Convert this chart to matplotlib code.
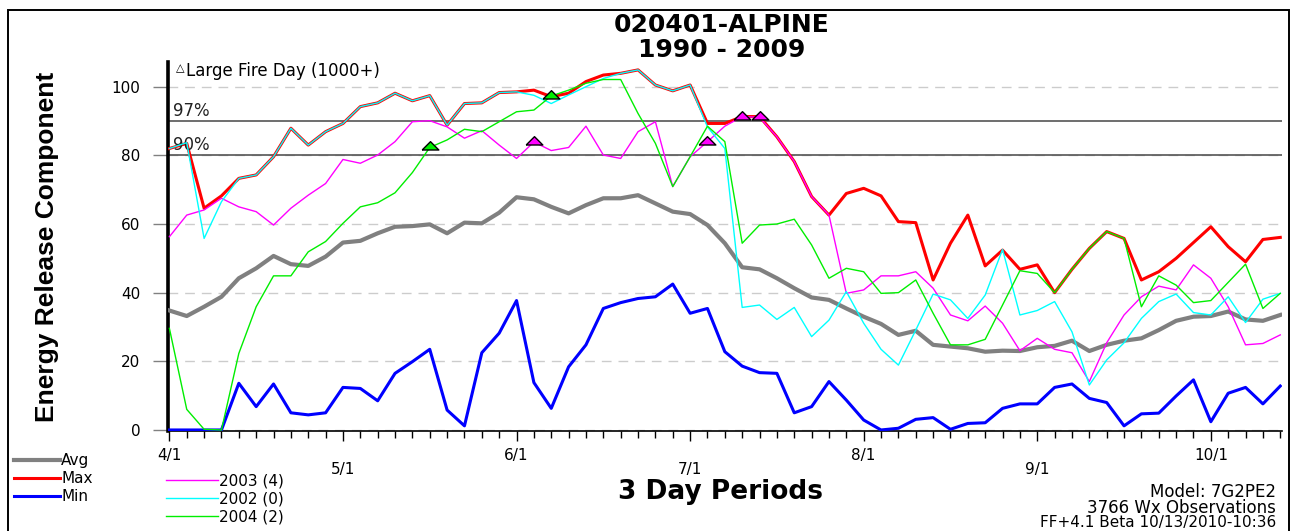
import matplotlib.pyplot as plt
from matplotlib.patches import Rectangle
import numpy as np

# ERC per 3-day period, starting 4/1
avg = [34.8, 33.2, 35.9, 38.8, 44.2, 47.1, 50.7, 48.3, 47.8, 50.5, 54.6, 55.1, 57.3, 59.2, 59.4, 59.9,
       57.3, 60.4, 60.2, 63.3, 67.8, 67.2, 65.0, 63.1, 65.5, 67.5, 67.5, 68.4, 66.0, 63.6, 62.9, 59.7,
       54.4, 47.4, 46.8, 44.2, 41.3, 38.6, 37.9, 35.4, 33.0, 30.9, 27.7, 28.9, 24.8, 24.3, 23.8, 22.8,
       23.1, 23.0, 24.1, 24.5, 26.0, 23.0, 24.8, 26.0, 26.7, 29.1, 31.8, 33.0, 33.2, 34.5, 32.2, 31.8, 33.5]
max_erc = [82.0, 83.5, 64.6, 68.2, 73.3, 74.3, 79.6, 87.9, 83.0, 86.9, 89.3, 94.2, 95.3, 98.1, 95.9, 97.4,
           88.8, 95.1, 95.3, 98.3, 98.5, 99.0, 97.1, 98.1, 101.5, 103.4, 103.9, 104.9, 100.5, 98.8, 100.5, 89.3,
           89.3, 91.3, 91.3, 85.4, 78.2, 68.0, 62.6, 68.9, 70.4, 68.2, 60.7, 60.4, 43.7, 54.4, 62.6, 47.8,
           52.4, 46.8, 48.1, 40.0, 46.8, 52.9, 57.8, 55.8, 43.7, 46.1, 50.0, 54.6, 59.2, 53.4, 49.0, 55.5, 56.1]
min_erc = [0, 0, 0, 0, 13.6, 6.8, 13.4, 5.0, 4.4, 5.0, 12.4, 12.1, 8.5, 16.5, 19.9, 23.5,
           5.8, 1.2, 22.5, 28.2, 37.7, 13.8, 6.3, 18.4, 24.8, 35.4, 37.1, 38.3, 38.8, 42.5, 34.0, 35.4,
           22.8, 18.6, 16.7, 16.5, 5.0, 6.8, 14.1, 8.7, 2.9, 0.0, 0.5, 3.1, 3.6, 0.2, 1.9, 2.1,
           6.3, 7.6, 7.6, 12.4, 13.4, 9.2, 8.0, 1.2, 4.7, 4.9, 9.9, 14.6, 2.4, 10.7, 12.4, 7.6, 12.8]
y2003 = [56.3, 62.6, 64.1, 67.5, 65.0, 63.6, 59.7, 64.6, 68.4, 71.8, 78.8, 77.7, 80.1, 84.0, 89.8, 90.1,
         88.3, 85.0, 87.2, 83.0, 79.1, 83.9, 81.4, 82.3, 88.5, 80.1, 79.1, 86.9, 89.8, 70.9, 79.6, 84.0,
         88.5, 91.3, 91.1, 85.4, 78.2, 68.0, 62.6, 39.8, 40.8, 44.9, 44.9, 46.1, 41.3, 33.5, 31.8, 36.1,
         31.1, 23.1, 26.7, 23.5, 22.5, 14.1, 25.4, 33.5, 38.8, 41.9, 40.8, 48.1, 44.2, 35.9, 24.8, 25.2, 27.7]
y2002 = [82.0, 83.7, 55.8, 66.5, 73.3, 74.3, 79.6, 87.9, 83.0, 86.9, 89.3, 94.2, 95.3, 98.1, 95.9, 97.4,
         88.8, 95.1, 95.3, 98.3, 98.5, 97.5, 95.1, 97.6, 100.0, 102.4, 103.9, 104.9, 100.5, 98.8, 100.5, 88.3,
         82.0, 35.7, 36.4, 32.2, 35.7, 27.2, 32.0, 40.3, 31.1, 23.5, 18.9, 29.1, 39.6, 37.9, 32.5, 39.3,
         52.6, 33.5, 34.8, 37.4, 28.6, 13.1, 20.4, 25.4, 32.5, 37.4, 39.6, 34.2, 33.5, 38.8, 31.3, 38.1, 39.8]
y2004 = [29.6, 6.0, 0.2, 0.0, 22.3, 35.9, 44.9, 44.9, 51.9, 54.9, 60.2, 65.0, 66.2, 69.1, 75.0, 82.3,
         84.5, 87.6, 86.9, 89.8, 92.7, 93.2, 97.3, 99.0, 101.0, 102.1, 102.1, 92.2, 83.5, 70.9, 79.6, 88.5,
         84.0, 54.4, 59.7, 60.0, 61.4, 53.9, 44.2, 47.1, 46.1, 39.8, 40.0, 43.7, 34.0, 24.8, 24.8, 26.4,
         36.4, 46.4, 45.6, 40.0, 46.8, 52.9, 57.8, 55.8, 35.9, 44.9, 42.2, 37.1, 37.7, 43.0, 48.3, 35.4, 39.8]

# large fire days (period index)
fires_2003 = [21, 31, 33, 34]
fires_2004 = [15, 22]

month_pos = [0, 10, 20, 30, 40, 50, 60]
month_labels = ['4/1', '\n5/1', '6/1', '\n7/1', '8/1', '\n9/1', '10/1']

plt.rcParams['font.family'] = 'DejaVu Sans'

W, H = 1296, 531
def fx(px):
    return px / W
def fy(py):
    return 1 - py / H

fig = plt.figure(figsize=(W / 100, H / 100), dpi=100)
ax = fig.add_axes([fx(168), fy(431), fx(1282) - fx(168), fy(62) - fy(431)])

x = np.arange(len(avg))
l_avg, = ax.plot(x, avg, color='#808080', lw=3.0, label='Avg', zorder=3)
l_min, = ax.plot(x, min_erc, color='#0000ff', lw=2.2, label='Min', zorder=3)
l_max, = ax.plot(x, max_erc, color='#ff0000', lw=2.2, label='Max', zorder=3)
l03, = ax.plot(x, y2003, color='#ff00ff', lw=1.0, label='2003 (4)', zorder=4)
l02, = ax.plot(x, y2002, color='#00ffff', lw=1.0, label='2002 (0)', zorder=4)
l04, = ax.plot(x, y2004, color='#00ee00', lw=1.0, label='2004 (2)', zorder=4)

tri = [(-1, -0.3), (1, -0.3), (0, 0.7), (-1, -0.3)]
ax.plot(fires_2003, [y2003[i] for i in fires_2003], ls='none', marker=tri, ms=12,
        mfc='#ff00ff', mec='black', mew=1, zorder=5)
ax.plot(fires_2004, [y2004[i] for i in fires_2004], ls='none', marker=tri, ms=12,
        mfc='#00ee00', mec='black', mew=1, zorder=5)

# percentile lines
ax.axhline(90, color='#555555', lw=1.2, zorder=2)
ax.axhline(80, color='#555555', lw=1.2, zorder=2)
ax.text(0.2, 90.4, '97%', fontsize=12, va='bottom', ha='left', color='#222222')
ax.text(0.2, 80.4, '90%', fontsize=12, va='bottom', ha='left', color='#222222')

ax.set_xlim(-0.08, 64.1)
ax.set_ylim(-0.3, 107.2)
ax.set_yticks([0, 20, 40, 60, 80, 100])
ax.yaxis.grid(True, color='#cccccc', linestyle=(0, (7, 5)), lw=1)
ax.set_axisbelow(True)

ax.set_xticks(month_pos)
ax.set_xticklabels(month_labels, fontsize=11, linespacing=0.95)
ax.set_xticks(x, minor=True)
ax.tick_params(axis='x', which='major', length=7, width=1, pad=5, direction='out')
ax.tick_params(axis='x', which='minor', length=5, width=1, direction='out')
ax.tick_params(axis='y', length=11, width=1, color='#808080', pad=9, labelsize=11)

for s in ['top', 'right']:
    ax.spines[s].set_visible(False)
ax.spines['left'].set_linewidth(2.6)
ax.spines['bottom'].set_linewidth(1.2)

# texts
fig.text(fx(722), fy(25), '020401-ALPINE', fontsize=18, fontweight='bold', ha='center', va='center')
fig.text(fx(722), fy(50), '1990 - 2009', fontsize=18, fontweight='bold', ha='center', va='center')
fig.text(fx(47), fy(247), 'Energy Release Component', family='Liberation Sans', fontsize=19,
         fontweight='bold', rotation=90, ha='center', va='center')
fig.text(fx(720), fy(492), '3 Day Periods', fontsize=19, fontweight='bold', ha='center', va='center')
fig.text(fx(176), fy(68), '\u25b3', fontsize=8, ha='left', va='center')
fig.text(fx(186), fy(71), 'Large Fire Day (1000+)', fontsize=12, ha='left', va='center')
fig.text(fx(1276), fy(492), 'Model: 7G2PE2', fontsize=12, ha='right', va='center')
fig.text(fx(1276), fy(508), '3766 Wx Observations', fontsize=12, ha='right', va='center')
fig.text(fx(1276), fy(523), 'FF+4.1 Beta 10/13/2010-10:36', fontsize=11, ha='right', va='center')

leg1 = fig.legend(handles=[l_avg, l_max, l_min], loc='upper left', bbox_to_anchor=(fx(14), fy(453)),
                  frameon=False, fontsize=11, handlelength=3.0, handletextpad=0.1,
                  labelspacing=0.2, borderpad=0, borderaxespad=0)
leg2 = fig.legend(handles=[l03, l02, l04], loc='upper left', bbox_to_anchor=(fx(166), fy(473)),
                  frameon=False, fontsize=11, handlelength=3.4, handletextpad=0.1,
                  labelspacing=0.2, borderpad=0, borderaxespad=0)

fig.add_artist(Rectangle((fx(8), -0.1), fx(1289) - fx(8), fy(10) + 0.1, transform=fig.transFigure,
                         fill=False, edgecolor='black', lw=1.4))

fig.savefig('out.png', dpi=100)
